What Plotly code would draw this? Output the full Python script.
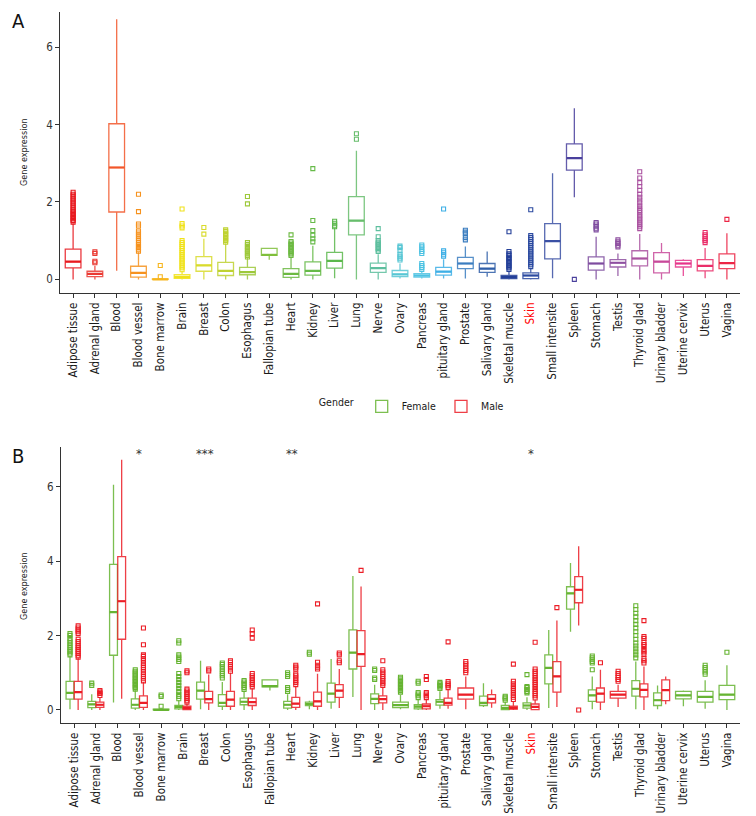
import plotly.graph_objects as go

# ---------------- data ----------------
tissues = ["Adipose tissue", "Adrenal gland", "Blood", "Blood vessel", "Bone marrow", "Brain",
           "Breast", "Colon", "Esophagus", "Fallopian tube", "Heart", "Kidney", "Liver", "Lung",
           "Nerve", "Ovary", "Pancreas", "pituitary gland", "Prostate", "Salivary gland",
           "Skeletal muscle", "Skin", "Small intensite", "Spleen", "Stomach", "Testis",
           "Thyroid glad", "Urinary bladder", "Uterine cervix", "Uterus", "Vagina"]

tissue_colors = ["#E8191F", "#EA3A33", "#F2562A", "#F6921E", "#F7B51C", "#F0E21B", "#D9DB2C",
                 "#BFD231", "#9DC83A", "#7FBF3B", "#6CB942", "#66BA48", "#5BB84C", "#67BD6C",
                 "#5DBF9E", "#57C6D4", "#4DC2E2", "#3DAFE6", "#3A7DC0", "#2F5EA8", "#233F98",
                 "#2B4AA0", "#3A50A4", "#4A409D", "#7E4C9F", "#8E4FA0", "#AA52A0", "#C8499A",
                 "#E6348A", "#EA2E6A", "#EC2646"]

# Panel A: box statistics per tissue
a_lo  = [0.00, 0.00, 0.22, 0.00, 0.00, 0.00, 0.00, 0.00, 0.00, 0.51, 0.00, 0.00, 0.03, 0.00, 0.00, 0.02,
         0.02, 0.02, 0.02, 0.07, 0.00, 0.00, 0.03, 2.12, 0.00, 0.09, 0.00, 0.00, 0.09, 0.03, 0.00]
a_q1  = [0.30, 0.07, 1.74, 0.06, 0.00, 0.03, 0.21, 0.10, 0.12, 0.62, 0.05, 0.11, 0.29, 1.15, 0.18, 0.07,
         0.06, 0.11, 0.28, 0.18, 0.02, 0.02, 0.53, 2.82, 0.24, 0.32, 0.35, 0.17, 0.32, 0.22, 0.28]
a_med = [0.46, 0.14, 2.89, 0.17, 0.00, 0.06, 0.36, 0.22, 0.19, 0.63, 0.14, 0.22, 0.48, 1.52, 0.29, 0.13,
         0.10, 0.20, 0.41, 0.28, 0.06, 0.10, 0.99, 3.13, 0.41, 0.43, 0.54, 0.46, 0.41, 0.35, 0.42]
a_q3  = [0.78, 0.21, 4.02, 0.34, 0.01, 0.12, 0.59, 0.44, 0.31, 0.80, 0.28, 0.45, 0.70, 2.14, 0.42, 0.23,
         0.15, 0.31, 0.57, 0.41, 0.10, 0.17, 1.44, 3.50, 0.58, 0.51, 0.74, 0.69, 0.49, 0.51, 0.66]
a_hi  = [1.45, 0.35, 6.72, 0.70, 0.03, 0.22, 1.05, 0.93, 0.55, 0.80, 0.58, 0.87, 1.33, 3.32, 0.65, 0.41,
         0.22, 0.52, 0.85, 0.72, 0.22, 0.30, 2.74, 4.42, 1.10, 0.67, 1.17, 0.94, 0.52, 0.81, 1.19]
a_out = [
    [1.48, 1.52, 1.56, 1.60, 1.64, 1.68, 1.72, 1.76, 1.80, 1.85, 1.90, 1.95, 2.00, 2.05, 2.10, 2.15, 2.20, 2.25],
    [0.43, 0.47, 0.67, 0.71],
    [],
    [0.73, 0.78, 0.82, 0.86, 0.90, 0.95, 1.00, 1.05, 1.10, 1.15, 1.20, 1.25, 1.38, 1.43, 1.75, 2.20],
    [0.07, 0.36],
    [0.25, 0.30, 0.35, 0.40, 0.45, 0.50, 0.55, 0.60, 0.65, 0.70, 0.75, 0.80, 0.85, 0.90, 0.95, 1.00,
     1.33, 1.38, 1.44, 1.82],
    [1.17, 1.34],
    [0.96, 1.00, 1.04, 1.08, 1.12, 1.16, 1.20, 1.24, 1.28],
    [0.58, 0.62, 0.66, 0.70, 0.74, 0.78, 0.82, 0.86, 0.90, 0.95, 1.95, 2.14],
    [],
    [0.62, 0.66, 0.70, 0.74, 0.78, 0.82, 0.86, 0.90, 0.94, 0.98, 1.15],
    [0.97, 1.05, 1.14, 1.26, 1.52, 2.86],
    [1.36, 1.40, 1.45, 1.50],
    [3.62, 3.76],
    [0.72, 0.76, 0.80, 0.84, 0.88, 0.92, 0.96, 1.00, 1.10, 1.31],
    [0.50, 0.55, 0.60, 0.65, 0.75, 0.82, 0.86],
    [0.26, 0.31, 0.36, 0.41, 0.67, 0.72, 0.78, 0.84, 0.89],
    [0.60, 0.65, 0.70, 0.74, 1.82],
    [1.02, 1.08, 1.18, 1.22, 1.27],
    [],
    [0.26, 0.30, 0.34, 0.38, 0.42, 0.46, 0.50, 0.54, 0.58, 0.62, 0.66, 0.72, 1.23],
    [0.33, 0.38, 0.43, 0.48, 0.53, 0.58, 0.63, 0.68, 0.73, 0.78, 0.83, 0.88, 0.93, 0.98, 1.03, 1.08, 1.13, 1.80],
    [],
    [0.00],
    [1.28, 1.32, 1.38, 1.43, 1.47],
    [0.84, 0.88, 0.93, 0.97, 1.02],
    [1.31, 1.36, 1.41, 1.46, 1.51, 1.56, 1.61, 1.66, 1.72, 1.78, 1.84, 1.90, 1.98, 2.05, 2.12, 2.20,
     2.30, 2.40, 2.50, 2.62, 2.78],
    [],
    [],
    [0.95, 1.00, 1.05, 1.10, 1.15, 1.21],
    [1.55],
]

# Panel B: female
f_lo  = [0.02, 0.00, 0.20, 0.00, 0.00, 0.00, 0.02, 0.00, 0.00, 0.52, 0.00, 0.02, 0.03, 0.35, 0.00, 0.02,
         0.00, 0.03, None, 0.08, 0.00, 0.00, 0.05, 2.10, 0.02, None, 0.02, 0.02, 0.10, 0.03, 0.00]
f_q1  = [0.29, 0.06, 1.47, 0.05, 0.00, 0.03, 0.29, 0.10, 0.14, 0.62, 0.05, 0.12, 0.21, 1.10, 0.17, 0.06,
         0.03, 0.13, None, 0.12, 0.01, 0.05, 0.70, 2.71, 0.23, None, 0.37, 0.12, 0.30, 0.21, 0.28]
f_med = [0.46, 0.15, 2.63, 0.14, 0.00, 0.08, 0.52, 0.19, 0.22, 0.64, 0.14, 0.16, 0.44, 1.54, 0.30, 0.13,
         0.09, 0.22, None, 0.19, 0.05, 0.12, 1.13, 3.13, 0.39, None, 0.57, 0.26, 0.39, 0.35, 0.41]
f_q3  = [0.77, 0.23, 3.91, 0.30, 0.02, 0.12, 0.75, 0.41, 0.32, 0.81, 0.23, 0.21, 0.72, 2.15, 0.43, 0.21,
         0.14, 0.28, None, 0.37, 0.12, 0.19, 1.48, 3.31, 0.54, None, 0.79, 0.46, 0.50, 0.50, 0.66]
f_hi  = [1.45, 0.42, 6.05, 0.53, 0.04, 0.26, 1.32, 0.75, 0.52, 0.81, 0.42, 0.25, 1.37, 3.60, 0.68, 0.40,
         0.27, 0.50, None, 0.72, 0.22, 0.34, 2.15, 3.95, 0.90, None, 1.30, 0.66, 0.52, 0.80, 1.20]
f_out = [
    [1.48, 1.53, 1.58, 1.63, 1.68, 1.74, 1.80, 1.86, 1.92, 2.00, 2.05],
    [0.66, 0.72],
    [],
    [0.56, 0.60, 0.64, 0.68, 0.72, 0.76, 0.80, 0.84, 0.88, 0.92, 0.96, 1.00, 1.04, 1.08],
    [0.10, 0.36, 0.40],
    [0.30, 0.36, 0.42, 0.50, 0.58, 0.66, 0.74, 0.82, 0.90, 0.98, 1.30, 1.36, 1.42, 1.48, 1.80, 1.86],
    [],
    [0.86, 0.92, 0.98, 1.04, 1.10, 1.16, 1.22, 1.26],
    [0.55, 0.60, 0.65, 0.70, 0.75, 0.79],
    [],
    [0.50, 0.55, 0.60, 0.90, 0.95, 1.00],
    [1.50, 1.55],
    [],
    [],
    [0.82, 0.86, 1.06, 1.10],
    [0.48, 0.52, 0.56, 0.60, 0.64, 0.68, 0.72, 0.76, 0.80, 0.84, 0.88],
    [0.33, 0.38, 0.43, 0.47, 0.72, 0.77],
    [0.58, 0.62, 0.66, 0.70, 0.74],
    [],
    [],
    [0.26, 0.30, 0.34, 0.37],
    [0.46, 0.50, 0.55, 0.60, 0.63, 0.95],
    [],
    [],
    [1.08, 1.26, 1.30, 1.35, 1.40, 1.45],
    [],
    [1.40, 1.48, 1.56, 1.64, 1.72, 1.80, 1.90, 2.00, 2.10, 2.20, 2.30, 2.40, 2.50, 2.60, 2.70, 2.80],
    [],
    [],
    [0.96, 1.02, 1.08, 1.14, 1.20],
    [1.55],
]

# Panel B: male
m_lo  = [0.00, 0.00, 0.30, 0.00, None, 0.00, 0.00, 0.00, 0.00, None, 0.00, 0.00, 0.05, 0.00, 0.00, None,
         0.00, 0.03, 0.02, 0.06, 0.00, 0.00, 0.08, 2.27, 0.00, 0.08, 0.00, 0.15, None, None, None]
m_q1  = [0.29, 0.07, 1.90, 0.07, None, 0.01, 0.19, 0.10, 0.12, None, 0.07, 0.10, 0.34, 1.17, 0.19, None,
         0.03, 0.13, 0.29, 0.19, 0.02, 0.01, 0.48, 2.88, 0.21, 0.32, 0.35, 0.25, None, None, None]
m_med = [0.48, 0.14, 2.92, 0.19, None, 0.05, 0.29, 0.28, 0.21, None, 0.17, 0.23, 0.52, 1.50, 0.29, None,
         0.10, 0.19, 0.41, 0.30, 0.05, 0.08, 0.90, 3.23, 0.44, 0.41, 0.54, 0.53, None, None, None]
m_q3  = [0.77, 0.21, 4.12, 0.38, None, 0.10, 0.50, 0.50, 0.32, None, 0.34, 0.48, 0.68, 2.13, 0.38, None,
         0.16, 0.32, 0.59, 0.41, 0.10, 0.16, 1.30, 3.58, 0.59, 0.50, 0.70, 0.81, None, None, None]
m_hi  = [1.40, 0.32, 6.72, 0.75, None, 0.18, 0.95, 1.00, 0.58, None, 0.65, 0.97, 1.10, 3.32, 0.62, None,
         0.30, 0.55, 0.90, 0.55, 0.22, 0.28, 2.40, 4.40, 1.08, 0.68, 1.17, 0.90, None, None, None]
m_out = [
    [1.42, 1.47, 1.52, 1.57, 1.62, 1.67, 1.72, 1.78, 1.84, 1.90, 2.05, 2.10, 2.15, 2.20, 2.26],
    [0.39, 0.44, 0.48, 0.52],
    [],
    [0.78, 0.84, 0.90, 0.96, 1.02, 1.08, 1.14, 1.20, 1.26, 1.32, 1.38, 1.44, 1.48, 1.75, 2.20],
    [],
    [0.21, 0.26, 0.31, 0.36, 0.41, 0.46, 0.51, 0.56, 1.00, 1.05],
    [1.05, 1.10],
    [1.04, 1.10, 1.16, 1.22, 1.28, 1.32],
    [0.62, 0.68, 0.74, 0.80, 0.86, 0.92, 0.98, 1.93, 2.05, 2.15],
    [],
    [0.68, 0.74, 0.80, 0.86, 0.92, 0.97, 1.10, 1.15, 1.20],
    [1.10, 1.15, 1.20, 1.28, 2.85],
    [1.27, 1.32, 1.48, 1.53],
    [3.75],
    [0.66, 0.72, 0.78, 0.84, 0.90, 0.96, 1.02, 1.08, 1.32],
    [],
    [0.33, 0.38, 0.43, 0.47, 0.82, 0.90],
    [0.60, 0.65, 0.70, 0.76, 1.83],
    [1.00, 1.06, 1.12, 1.18, 1.24, 1.30],
    [],
    [0.28, 0.34, 0.40, 0.46, 0.52, 0.58, 0.64, 0.70, 0.77, 1.23],
    [0.32, 0.38, 0.44, 0.50, 0.56, 0.62, 0.68, 0.74, 0.80, 0.86, 0.92, 0.98, 1.04, 1.10, 1.82],
    [2.75],
    [0.00],
    [1.27],
    [0.77, 0.82, 0.87, 0.92, 0.98, 1.04],
    [1.26, 1.32, 1.38, 1.50, 1.56, 1.62, 1.70, 1.76, 1.82, 1.92, 1.97, 2.40],
    [],
    [],
    [],
    [],
]

sig_labels = ["", "", "", "*", "", "", "***", "", "", "", "**", "", "", "", "", "", "", "", "", "", "",
              "*", "", "", "", "", "", "", "", "", ""]

female_color = "#66B432"
male_color = "#EC1E27"

# ---------------- figure ----------------
FONT = "DejaVu Sans Condensed"
fig = go.Figure()


def add_boxes(xs, lo, q1, med, q3, hi, color, width, xa, ya, name=None, legend=False):
    fig.add_trace(go.Box(
        x=xs, lowerfence=lo, q1=q1, median=med, q3=q3, upperfence=hi,
        width=width, whiskerwidth=0, boxpoints=False,
        line=dict(color=color, width=1.3), fillcolor="rgba(255,255,255,1)",
        opacity=0.85, xaxis=xa, yaxis=ya, name=name or "", showlegend=legend,
        legendgroup=name, hoverinfo="skip"))
    # thicker median segment
    fig.add_trace(go.Box(
        x=xs, lowerfence=med, q1=med, median=med, q3=med, upperfence=med,
        width=width, whiskerwidth=0, boxpoints=False,
        line=dict(color=color, width=2.2), fillcolor="rgba(0,0,0,0)",
        xaxis=xa, yaxis=ya, showlegend=False, hoverinfo="skip"))


def add_outliers(xs, ys, color, xa, ya):
    fig.add_trace(go.Scatter(
        x=xs, y=ys, mode="markers", xaxis=xa, yaxis=ya, showlegend=False, hoverinfo="skip",
        marker=dict(symbol="square-open", size=4, color=color, line=dict(width=1.1, color=color))))


# Panel A
for i, t in enumerate(tissues):
    c = tissue_colors[i]
    add_boxes([i], [a_lo[i]], [a_q1[i]], [a_med[i]], [a_q3[i]], [a_hi[i]], c, 0.72, "x", "y")
    if a_out[i]:
        add_outliers([i] * len(a_out[i]), a_out[i], c, "x", "y")

# Panel B
half = 0.1875
for sex, lo, q1, med, q3, hi, outs, col, other in [
        ("Female", f_lo, f_q1, f_med, f_q3, f_hi, f_out, female_color, m_med),
        ("Male", m_lo, m_q1, m_med, m_q3, m_hi, m_out, male_color, f_med)]:
    sign = -1 if sex == "Female" else 1
    paired = [i for i in range(len(tissues)) if med[i] is not None and other[i] is not None]
    single = [i for i in range(len(tissues)) if med[i] is not None and other[i] is None]
    pos = {i: i + sign * half for i in paired}
    pos.update({i: i for i in single})
    add_boxes([pos[i] for i in paired], [lo[i] for i in paired], [q1[i] for i in paired],
              [med[i] for i in paired], [q3[i] for i in paired], [hi[i] for i in paired],
              col, 0.36, "x2", "y2", name=sex, legend=True)
    add_boxes([pos[i] for i in single], [lo[i] for i in single], [q1[i] for i in single],
              [med[i] for i in single], [q3[i] for i in single], [hi[i] for i in single],
              col, 0.72, "x2", "y2")
    ox, oy = [], []
    for i in pos:
        ox += [pos[i]] * len(outs[i])
        oy += outs[i]
    add_outliers(ox, oy, col, "x2", "y2")

# significance marks
for i, s in enumerate(sig_labels):
    if s:
        fig.add_annotation(x=i, y=6.88, xref="x2", yref="y2", text=s, showarrow=False,
                           xanchor="center", yanchor="middle",
                           font=dict(size=13, color="#333333", family=FONT))

ticktext = [f"<span style='color:#FF0000'>{t}</span>" if t == "Skin" else t for t in tissues]

xcommon = dict(range=[-0.6, len(tissues) - 0.4], tickmode="array", tickvals=list(range(len(tissues))),
               ticktext=ticktext, tickangle=-90, showline=True, linecolor="#333333", linewidth=1,
               ticks="outside", ticklen=4, tickcolor="#333333", showgrid=False, zeroline=False,
               tickfont=dict(family=FONT, size=11.5, color="#1a1a1a"), automargin=False)
ycommon = dict(tickmode="array", tickvals=[0, 2, 4, 6], showline=True, linecolor="#333333", linewidth=1,
               ticks="outside", ticklen=4, tickcolor="#333333", showgrid=False, zeroline=False,
               tickfont=dict(family=FONT, size=11.5, color="#333333"), automargin=False)

fig.update_layout(
    width=756, height=816, template="none",
    margin=dict(l=0, r=0, t=0, b=0),
    paper_bgcolor="white", plot_bgcolor="white",
    boxmode="overlay",
    font=dict(family=FONT, size=11, color="#1a1a1a"),
    xaxis=dict(domain=[0.0794, 0.9788], anchor="y", **xcommon),
    yaxis=dict(domain=[0.641, 0.985], anchor="x", range=[-0.35, 6.9], **ycommon),
    xaxis2=dict(domain=[0.0807, 0.9788], anchor="y2", **xcommon),
    yaxis2=dict(domain=[0.114, 0.452], anchor="x2", range=[-0.35, 7.06], **ycommon),
    legend=dict(orientation="h", x=0.419, xanchor="left", y=0.502, yanchor="middle",
                itemwidth=30, title=dict(text="Gender", side="left", font=dict(family=FONT, size=10.5)),
                font=dict(family=FONT, size=10.5), bgcolor="rgba(0,0,0,0)"),
)

for yc in (152, 586):
    fig.add_annotation(x=24 / 756, y=(816 - yc) / 816, xref="paper", yref="paper", text="Gene expression",
                       textangle=-90, showarrow=False, xanchor="center", yanchor="middle",
                       font=dict(family=FONT, size=9, color="#1a1a1a"))
for lab, yc in (("A", 21), ("B", 456)):
    fig.add_annotation(x=18 / 756, y=(816 - yc) / 816, xref="paper", yref="paper", text=lab,
                       showarrow=False, xanchor="center", yanchor="middle",
                       font=dict(family=FONT, size=20, color="#111111"))

fig.write_html("out.html", config={"displayModeBar": False},
               post_script="document.body.style.margin='0';document.body.style.overflow='hidden';")
